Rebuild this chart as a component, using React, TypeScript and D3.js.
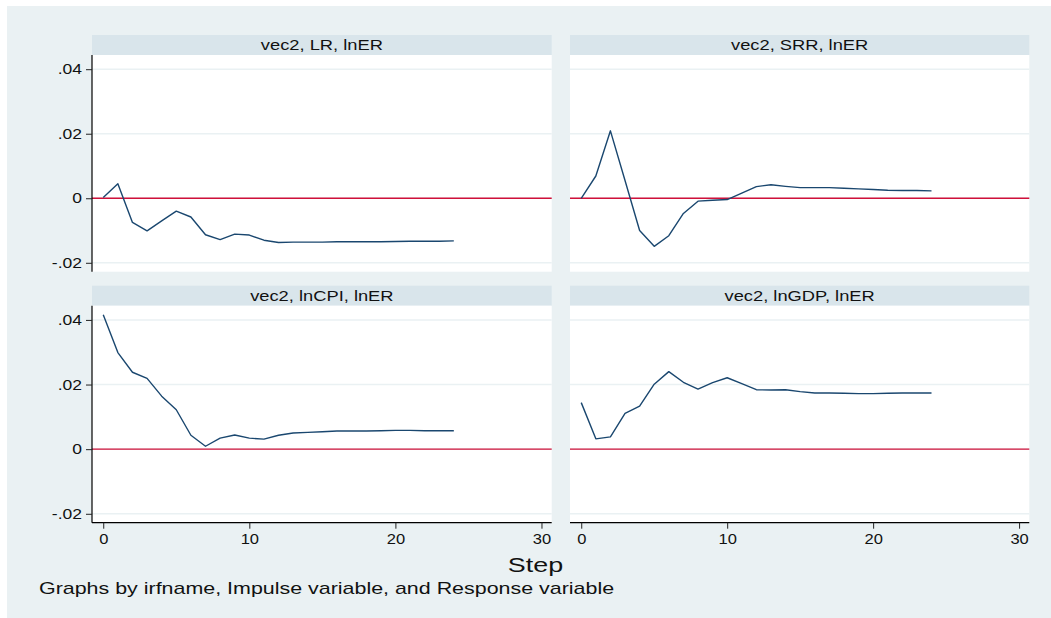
import { useRef, useEffect } from "react";
import * as d3 from "d3";

// impulse response steps 0..24
const steps = d3.range(0, 25);

const panelTitles = [
  "vec2, LR, lnER",
  "vec2, SRR, lnER",
  "vec2, lnCPI, lnER",
  "vec2, lnGDP, lnER",
];

const irfLR = [
  0.0002, 0.0045, -0.0075, -0.0101, -0.007, -0.004, -0.0058, -0.0113, -0.0128,
  -0.0111, -0.0114, -0.013, -0.0137, -0.0136, -0.0136, -0.0136, -0.0135,
  -0.0135, -0.0135, -0.0135, -0.0134, -0.0133, -0.0133, -0.0133, -0.0132,
];
const irfSRR = [
  0, 0.0069, 0.0209, 0.0055, -0.01, -0.0149, -0.0116, -0.0047, -0.0009,
  -0.0006, -0.0004, 0.0016, 0.0036, 0.0042, 0.0037, 0.0033, 0.0033, 0.0033,
  0.0031, 0.0029, 0.0027, 0.0025, 0.0024, 0.0024, 0.0023,
];
const irfCPI = [
  0.0416, 0.0299, 0.0238, 0.0219, 0.0164, 0.0122, 0.0043, 0.0009, 0.0034,
  0.0044, 0.0034, 0.0031, 0.0043, 0.005, 0.0052, 0.0054, 0.0056, 0.0056,
  0.0056, 0.0057, 0.0058, 0.0058, 0.0057, 0.0057, 0.0057,
];
const irfGDP = [
  0.0144, 0.0032, 0.0038, 0.0111, 0.0133, 0.0201, 0.024, 0.0207, 0.0186,
  0.0206, 0.0221, 0.0203, 0.0184, 0.0183, 0.0184, 0.0178, 0.0174, 0.0174,
  0.0173, 0.0172, 0.0172, 0.0173, 0.0174, 0.0174, 0.0174,
];

const yTicks = [-0.02, 0, 0.02, 0.04];
const xTicks = [0, 10, 20, 30];

const font = "'Liberation Sans', Arial, Helvetica, sans-serif";

// the reference text is drawn wider than the installed fonts, so stretch it
function widen(sel: d3.Selection<any, any, any, any>, factor: number) {
  sel.each(function () {
    const el = this as SVGTextElement;
    const w = el.getComputedTextLength();
    if (w > 0) {
      el.setAttribute("textLength", String(w * factor));
      el.setAttribute("lengthAdjust", "spacingAndGlyphs");
    }
  });
}

export default function App() {
  const svgRef = useRef<SVGSVGElement>(null);

  useEffect(() => {
    const svgEl = svgRef.current;
    if (!svgEl) return;
    const svg = d3.select(svgEl);
    svg.selectAll("*").remove();

    const W = 1051;
    const H = 618;

    svg.append("rect").attr("width", W).attr("height", H).attr("fill", "#fff");
    // stata-like outer background
    svg
      .append("rect")
      .attr("x", 7)
      .attr("y", 6)
      .attr("width", W - 7)
      .attr("height", H - 6)
      .attr("fill", "#eaf1f3");

    const cols = [
      { x0: 92, x1: 551.7 },
      { x0: 570, x1: 1029.3 },
    ];
    const rows = [
      { head: 35, top: 55, bottom: 271.7 },
      { head: 285.7, top: 305.7, bottom: 522.7 },
    ];
    const series = [irfLR, irfSRR, irfCPI, irfGDP];

    series.forEach((vals, i) => {
      const c = cols[i % 2];
      const r = rows[Math.floor(i / 2)];
      const x = d3.scaleLinear().domain([-0.77, 30.7]).range([c.x0, c.x1]);
      const y = d3
        .scaleLinear()
        .domain([-0.02276, 0.0444])
        .range([r.bottom, r.top]);

      const g = svg.append("g");

      // header strip
      g.append("rect")
        .attr("x", c.x0)
        .attr("y", r.head)
        .attr("width", c.x1 - c.x0)
        .attr("height", r.top - r.head)
        .attr("fill", "#d9e5eb");
      const title = g
        .append("text")
        .attr("x", (c.x0 + c.x1) / 2)
        .attr("y", (r.head + r.top) / 2)
        .attr("dy", "0.35em")
        .attr("text-anchor", "middle")
        .attr("font-family", font)
        .attr("font-size", 15)
        .attr("fill", "#111")
        .text(panelTitles[i]);
      widen(title, 1.22);

      // plot region
      g.append("rect")
        .attr("x", c.x0)
        .attr("y", r.top)
        .attr("width", c.x1 - c.x0)
        .attr("height", r.bottom - r.top)
        .attr("fill", "#fff");

      // gridlines
      g.selectAll("line.grid")
        .data(yTicks)
        .join("line")
        .attr("class", "grid")
        .attr("x1", c.x0)
        .attr("x2", c.x1)
        .attr("y1", (d) => y(d))
        .attr("y2", (d) => y(d))
        .attr("stroke", "#eaf1f3")
        .attr("stroke-width", 1.5);

      // zero reference line
      g.append("line")
        .attr("x1", c.x0)
        .attr("x2", c.x1)
        .attr("y1", y(0))
        .attr("y2", y(0))
        .attr("stroke", "#d0103a")
        .attr("stroke-width", 1.4);

      const lineGen = d3
        .line<number>()
        .x((_, k) => x(steps[k]))
        .y((d) => y(d));
      g.append("path")
        .datum(vals)
        .attr("fill", "none")
        .attr("stroke", "#1a476f")
        .attr("stroke-width", 1.4)
        .attr("stroke-linejoin", "round")
        .attr("d", lineGen);

      // left axis only on first column
      if (i % 2 === 0) {
        const ax = g
          .append("g")
          .attr("transform", `translate(${c.x0},0)`)
          .call(
            d3
              .axisLeft(y)
              .tickValues(yTicks)
              .tickSize(6)
              .tickPadding(4)
              .tickFormat((d) => {
                const v = +d;
                if (v === 0) return "0";
                // stata style: no leading zero, plain hyphen
                return (v < 0 ? "-" : "") + d3.format(".2f")(Math.abs(v)).replace("0.", ".");
              })
          );
        ax.select(".domain")
          .attr("d", `M0,${r.top}V${r.bottom}`)
          .attr("stroke", "#000")
          .attr("stroke-width", 1.2);
        ax.selectAll("line").attr("stroke", "#222");
        const t = ax
          .selectAll("text")
          .attr("font-family", font)
          .attr("font-size", 14)
          .attr("fill", "#111");
        widen(t, 1.25);
      }

      // bottom axis on last row
      if (i >= 2) {
        const bx = g
          .append("g")
          .attr("transform", `translate(0,${r.bottom})`)
          .call(
            d3
              .axisBottom(x)
              .tickValues(xTicks)
              .tickSize(6)
              .tickPadding(5)
              .tickFormat(d3.format("d") as any)
          );
        bx.select(".domain")
          .attr("d", `M${c.x0},0H${c.x1}`)
          .attr("stroke", "#000")
          .attr("stroke-width", 1.2);
        bx.selectAll("line").attr("stroke", "#222");
        const t = bx
          .selectAll("text")
          .attr("font-family", font)
          .attr("font-size", 14)
          .attr("fill", "#111");
        widen(t, 1.18);
      }
    });

    const stepLabel = svg
      .append("text")
      .attr("x", 535.5)
      .attr("y", 572)
      .attr("text-anchor", "middle")
      .attr("font-family", font)
      .attr("font-size", 21)
      .attr("fill", "#111")
      .text("Step");
    widen(stepLabel, 1.28);

    const note = svg
      .append("text")
      .attr("x", 39)
      .attr("y", 594)
      .attr("font-family", font)
      .attr("font-size", 17)
      .attr("fill", "#111")
      .text("Graphs by irfname, Impulse variable, and Response variable");
    widen(note, 1.26);
  }, []);

  return (
    <svg
      ref={svgRef}
      width={1051}
      height={618}
      style={{ position: "fixed", left: 0, top: 0, display: "block" }}
    />
  );
}
